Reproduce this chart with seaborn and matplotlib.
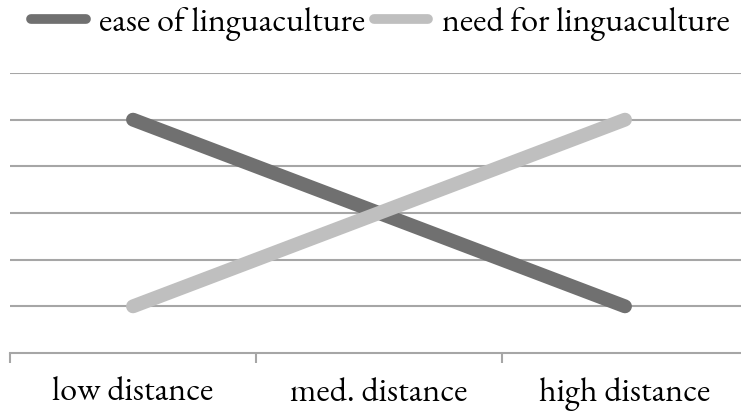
import matplotlib
matplotlib.use("Agg")
import matplotlib.pyplot as plt
import seaborn as sns
import pandas as pd

categories = ["low distance", "med. distance", "high distance"]
ease = [5, 3, 1]
need = [1, 3, 5]
series_names = ["ease of linguaculture", "need for linguaculture"]
colors = ["#707070", "#BFBFBF"]

FONT = ["EB Garamond", "Liberation Serif", "DejaVu Serif"]
FS = 24.5

sns.set_theme(style="white")
plt.rcParams['font.family'] = FONT

df = pd.DataFrame({
    "x": list(range(len(categories))) * 2,
    "value": ease + need,
    "series": [series_names[0]] * 3 + [series_names[1]] * 3,
})

fig = plt.figure(figsize=(7.41, 4.16), dpi=100)
ax = fig.add_axes([10 / 741, (416 - 353) / 416, 738 / 741, 280 / 416])

sns.lineplot(data=df, x="x", y="value", hue="series", palette=colors,
             linewidth=10, solid_capstyle="round", ax=ax, legend=True)

ax.set_xlim(-0.5, 2.5)
ax.set_ylim(0, 6)
ax.set_yticks(range(1, 7))
ax.yaxis.grid(True, color="#A6A6A6", linewidth=1.5)
ax.set_yticklabels([])
ax.tick_params(axis="y", length=0)
ax.set_xticks([-0.5, 0.5, 1.5, 2.5], minor=False)
ax.set_xticklabels([])
ax.tick_params(axis="x", which="major", length=7, width=1.5, color="#A6A6A6", direction="out", bottom=True)
ax.set_xticks(range(3), minor=True)
ax.set_xticklabels(categories, minor=True, fontsize=FS, family=FONT, color="black")
ax.tick_params(axis="x", which="minor", length=0, pad=17)
for s in ["top", "right", "left"]:
    ax.spines[s].set_visible(False)
ax.spines["bottom"].set_color("#A6A6A6")
ax.spines["bottom"].set_linewidth(1.5)
ax.set_xlabel("")
ax.set_ylabel("")

handles, labels = ax.get_legend_handles_labels()
for h in handles:
    h.set_linewidth(7)
leg = ax.legend(handles, labels, ncol=2, loc="center",
                bbox_to_anchor=((380.5 - 10) / 738, 1 + (73 - 24) / 280),
                frameon=False, prop={"family": FONT, "size": FS},
                handlelength=1.6, handletextpad=0.4, columnspacing=0.25,
                borderaxespad=0)
for t in leg.get_texts():
    t.set_color("black")

fig.savefig("out.png", dpi=100)
